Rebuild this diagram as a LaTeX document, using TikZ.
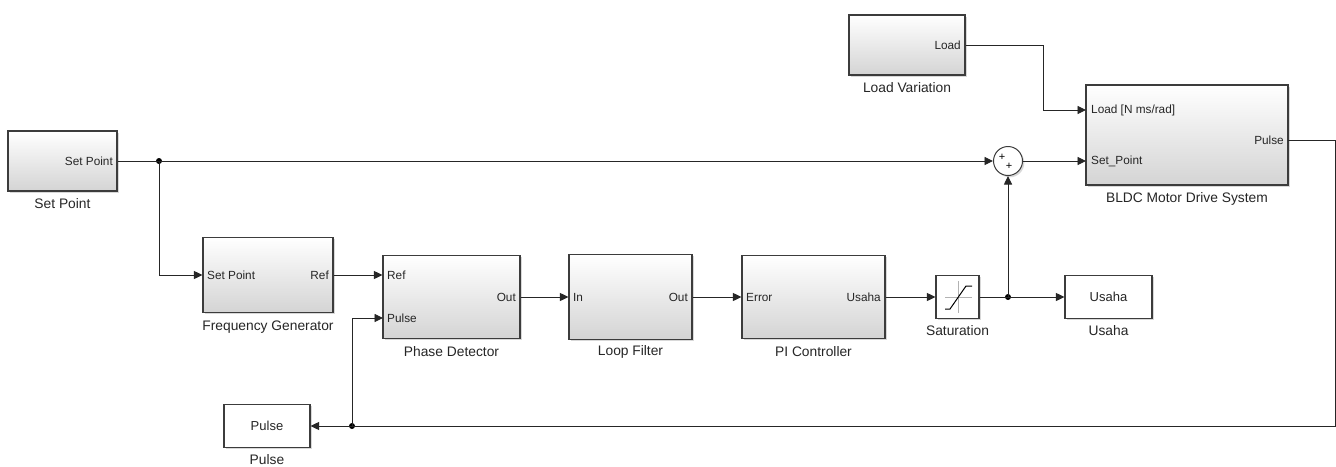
\documentclass[tikz,border=0pt]{standalone}
\usepackage{fontspec}
\setmainfont{Liberation Sans}
\usetikzlibrary{arrows.meta,shadows,calc}
\definecolor{edge}{HTML}{3C3C3C}
\definecolor{blkbot}{HTML}{D4D4D4}
\begin{document}
\begin{tikzpicture}[x=1pt,y=-1pt,
  shad/.style={drop shadow={opacity=0.3,shadow xshift=1.8pt,shadow yshift=-1.8pt}},
  blk/.style={draw=edge, line width=1.1pt, top color=white, bottom color=blkbot, shad, inner sep=0pt},
  wblk/.style={draw=edge, line width=1.1pt, fill=white, shad, inner sep=0pt, font=\fontsize{13}{15}\selectfont, text=black!85},
  port/.style={font=\fontsize{11.8}{13}\selectfont, inner sep=0pt, text=black!85},
  lab/.style={font=\fontsize{13.8}{15}\selectfont, inner sep=0pt, text=black!85},
  wire/.style={draw=black!85, line width=0.9pt},
  arr/.style={wire, -{Triangle[length=8.5pt,width=8pt]}},
  jdot/.style={circle, fill=black, inner sep=0pt, minimum size=6pt}]
\useasboundingbox (0,0) rectangle (1336,466);
\fill[white] (0,0) rectangle (1336,466);

% blocks
\node[blk, minimum width=109pt, minimum height=60pt] (sp) at (62.5,161) {};
\node[blk, minimum width=130pt, minimum height=75pt] (fg) at (268,275) {};
\node[blk, minimum width=137pt, minimum height=83pt] (pd) at (451.5,297) {};
\node[blk, minimum width=123pt, minimum height=85pt] (lf) at (630.5,297) {};
\node[blk, minimum width=143pt, minimum height=83pt] (pi) at (813.5,297) {};
\node[wblk, minimum width=43pt, minimum height=43pt] (sat) at (957.5,297) {};
\node[wblk, minimum width=87pt, minimum height=43pt] (us) at (1108.5,297) {Usaha};
\node[blk, minimum width=116pt, minimum height=60pt] (lv) at (907,45) {};
\node[blk, minimum width=202pt, minimum height=100pt] (bldc) at (1187,135) {};
\node[wblk, minimum width=86pt, minimum height=43pt] (pu) at (267,426) {Pulse};
\node[circle, draw=edge, line width=1pt, fill=white, minimum size=29pt, inner sep=0pt, shad] (sum) at (1008,161) {};
\node[inner sep=0pt, font=\fontsize{11}{11}\selectfont] (sp1) at (1002,157) {+};
\node[inner sep=0pt, font=\fontsize{11}{11}\selectfont] (sp2) at (1009,166) {+};

% saturation icon
\draw[gray!60, line width=0.7pt] (945,297) -- (972,297) (958,281) -- (958,313);
\draw[black, line width=1pt] (945,309) -- (950,309) -- (966,286) -- (972,286);

% port labels
\node[port, anchor=east] (spo) at (113,161) {Set Point};
\node[port, anchor=west] (fgi) at (207,275) {Set Point};
\node[port, anchor=east] (fgo) at (329,275) {Ref};
\node[port, anchor=west] (pdr) at (387,275) {Ref};
\node[port, anchor=west] (pdp) at (387,318) {Pulse};
\node[port, anchor=east] (pdo) at (516,297) {Out};
\node[port, anchor=west] (lfi) at (573,297) {In};
\node[port, anchor=east] (lfo) at (688,297) {Out};
\node[port, anchor=west] (pie) at (746,297) {Error};
\node[port, anchor=east] (piu) at (881,297) {Usaha};
\node[port, anchor=east] (lvo) at (961,45) {Load};
\node[port, anchor=west] (bl) at (1091,110) {Load [N ms/rad]};
\node[port, anchor=west] (bs) at (1091,161) {Set\_Point};
\node[port, anchor=east] (bp) at (1284,140) {Pulse};

% block labels
\node[lab] (spl) at (62.5,204) {Set Point};
\node[lab] (fgl) at (268,327) {Frequency Generator};
\node[lab] (pdl) at (451.5,352) {Phase Detector};
\node[lab] (lfl) at (630.5,352) {Loop Filter};
\node[lab] (pil) at (813.5,352) {PI Controller};
\node[lab] (satl) at (957.5,331) {Saturation};
\node[lab] (usl) at (1108.5,331) {Usaha};
\node[lab] (lvl) at (907,88) {Load Variation};
\node[lab] (bldcl) at (1187,199) {BLDC Motor Drive System};
\node[lab] (pul) at (267,460) {Pulse};

% junctions and bend points
\node[jdot] (j1) at (159,161) {};
\node[jdot] (j2) at (1008,297) {};
\node[jdot] (j3) at (352,426) {};
\coordinate (lvk) at (1043,45);
\coordinate (bldcL) at (1086,110);
\coordinate (bldcS) at (1086,161);
\coordinate (bldcP) at (1288,140);
\coordinate (r1) at (1335,140);
\coordinate (r2) at (1335,426);
\coordinate (pdP) at (383,318);

% connectors
\draw[wire] (sp.east) -- (j1.center);
\draw[arr] (j1.center) -- (sum.west);
\draw[arr] (j1.center) |- (fg.west);
\draw[arr] (fg.east) -- (fg.east -| pd.west);
\draw[arr] (pd.east) -- (lf.west);
\draw[arr] (lf.east) -- (pi.west);
\draw[arr] (pi.east) -- (sat.west);
\draw[wire] (sat.east) -- (j2.center);
\draw[arr] (j2.center) -- (us.west);
\draw[arr] (j2.center) -- (sum.south);
\draw[arr] (sum.east) -- (bldcS);
\draw[arr] (lv.east) -- (lvk) |- (bldcL);
\draw[wire] (bldcP) -- (r1) -- (r2) -- (j3.center);
\draw[arr] (j3.center) -- (pu.east);
\draw[arr] (j3.center) |- (pdP);
\end{tikzpicture}
\end{document}
